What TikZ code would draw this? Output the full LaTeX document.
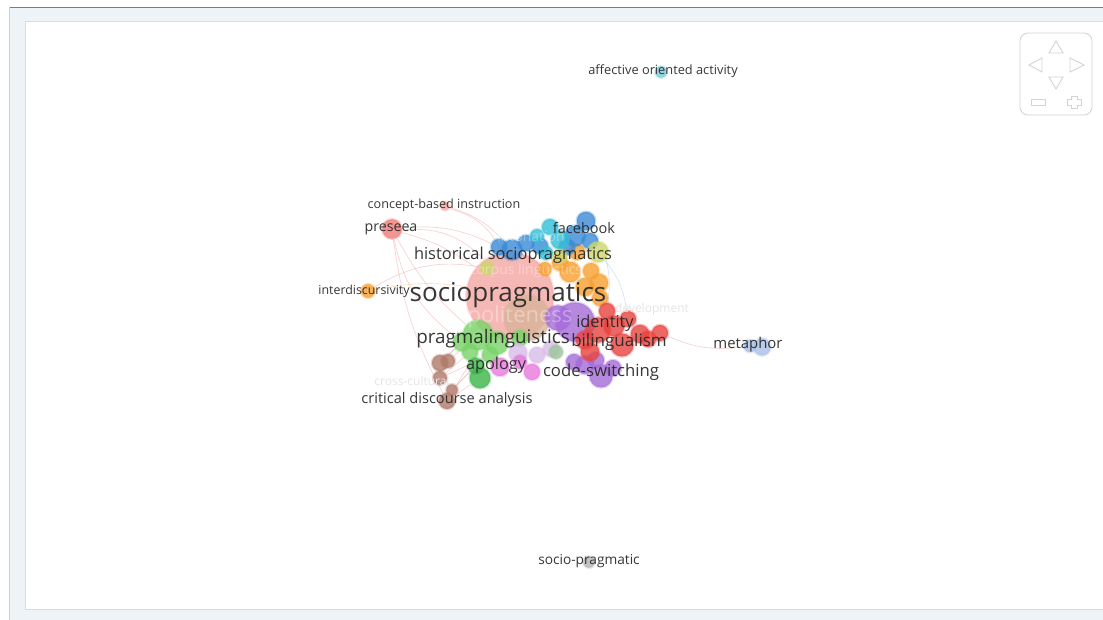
\documentclass[tikz,border=0pt]{standalone}
\usepackage{fontspec}
\setmainfont{Open Sans}
\pgfdeclarelayer{bg}
\pgfdeclarelayer{edges}
\pgfsetlayers{bg,edges,main}
\definecolor{frameC}{HTML}{EEF3F8}
\definecolor{topline}{HTML}{6E7F8F}
\definecolor{panelB}{HTML}{D5DCE3}
\definecolor{txt}{HTML}{262626}
\definecolor{pinkC}{HTML}{F4A7A3}
\definecolor{tanC}{HTML}{D9B39A}
\definecolor{redC}{HTML}{E8433F}
\definecolor{salmonC}{HTML}{F07C78}
\definecolor{blueC}{HTML}{3A8AD6}
\definecolor{cyanC}{HTML}{33BED8}
\definecolor{greenL}{HTML}{78D468}
\definecolor{greenD}{HTML}{3DB548}
\definecolor{purpleC}{HTML}{A46CD8}
\definecolor{orangeC}{HTML}{F7A030}
\definecolor{yellowC}{HTML}{CFD86A}
\definecolor{brownC}{HTML}{B07868}
\definecolor{lilacC}{HTML}{D8BCE8}
\definecolor{magentaC}{HTML}{E878DC}
\definecolor{tealC}{HTML}{7CCAD8}
\definecolor{metaC}{HTML}{A9C0E6}
\definecolor{grayC}{HTML}{B4B4B4}
\definecolor{ggC}{HTML}{9CC49A}
\definecolor{edgeC}{HTML}{F2AFAF}
\definecolor{navC}{HTML}{D4D4D4}
\tikzset{
  bub/.style={circle, inner sep=0pt, fill=#1, fill opacity=0.8, draw=#1, draw opacity=0.3, line width=2.5pt},
  lbl/.style={text=txt, inner sep=0pt, text opacity=0.92},
  faint/.style={text=white, text opacity=0.35, inner sep=0pt},
  faintg/.style={text=black!10, inner sep=0pt},
  edge/.style={draw=edgeC, line width=0.7pt, draw opacity=0.55},
  nav/.style={draw=navC, line width=0.9pt},
}
\newcommand{\bubb}[5]{\node[bub=#5, minimum size=#4*2.3pt] (#1) at (#2,#3) {};}
\newcommand{\fs}[1]{\fontsize{#1}{#1}\selectfont}
\begin{document}
\begin{tikzpicture}[x=1pt,y=-1pt]
\useasboundingbox (0,0) rectangle (1103,620);
\begin{pgfonlayer}{bg}
\fill[white] (0,0) rectangle (1103,620);
\fill[frameC] (9,7.5) rectangle (1103,620);
\draw[topline, line width=1.2pt] (9,7.5) -- (1103,7.5);
\draw[black!18, line width=0.8pt] (9,7.5) -- (9,620);
\fill[white] (25,21) rectangle (1110,609);
\draw[panelB, line width=0.9pt] (1110,21) -- (25,21) -- (25,609) -- (1110,609);
\end{pgfonlayer}

% navigation widget
\draw[nav, rounded corners=8pt] (1020,33) rectangle (1092,115);
\draw[nav] (1049,53) -- (1063,53) -- (1056,41) -- cycle;
\draw[nav] (1042,58) -- (1042,72) -- (1029,65) -- cycle;
\draw[nav] (1070,58) -- (1070,72) -- (1084,65) -- cycle;
\draw[nav] (1049,77) -- (1063,77) -- (1056,89) -- cycle;
\draw[nav] (1031,99) rectangle (1045,105);
\draw[nav] (1071,96) -- (1077,96) -- (1077,99) -- (1081,99) -- (1081,105) -- (1077,105) -- (1077,108) -- (1071,108) -- (1071,105) -- (1067,105) -- (1067,99) -- (1071,99) -- cycle;

% big central bubbles
\bubb{soc}{510}{296}{38}{pinkC}
\bubb{pol}{527}{318}{20}{tanC}
% orange
\bubb{o1}{570}{272}{9}{orangeC}
\bubb{o2}{585}{287}{8}{orangeC}
\bubb{o3}{599}{283}{8}{orangeC}
\bubb{o4}{577}{252}{7}{orangeC}
\bubb{o5}{560}{263}{7}{orangeC}
\bubb{o6}{545}{269}{6}{orangeC}
\bubb{o7}{600}{298}{7}{orangeC}
\bubb{o8}{591}{271}{7}{orangeC}
% blue
\bubb{bl1}{512}{250}{9}{blueC}
\bubb{bl2}{540}{246}{7}{blueC}
\bubb{bl3}{526}{243}{7}{blueC}
\bubb{bl4}{575}{236}{9}{blueC}
\bubb{bl5}{586}{221}{8}{blueC}
\bubb{bl6}{567}{247}{7}{blueC}
\bubb{bl7}{499}{247}{7}{blueC}
\bubb{bl8}{590}{241}{7}{blueC}
% cyan
\bubb{c1}{550}{227}{7}{cyanC}
\bubb{c2}{560}{240}{8}{cyanC}
\bubb{c3}{537}{236}{6}{cyanC}
\bubb{c4}{546}{253}{6}{cyanC}
% yellow green
\bubb{y1}{598}{252}{9}{yellowC}
\bubb{y2}{487}{268}{6}{yellowC}
\bubb{y3}{560}{256}{6}{yellowC}
% purple
\bubb{pu1}{575}{322}{17}{purpleC}
\bubb{pu2}{558}{318}{11}{purpleC}
\bubb{pu3}{601}{376}{10}{purpleC}
\bubb{pu4}{585}{365}{8}{purpleC}
\bubb{pu5}{613}{368}{7}{purpleC}
\bubb{pu6}{574}{362}{7}{purpleC}
\bubb{pu7}{596}{360}{7}{purpleC}
% red
\bubb{r1}{598}{330}{11}{redC}
\bubb{r2}{614}{326}{9}{redC}
\bubb{r3}{640}{334}{8}{redC}
\bubb{r4}{660}{333}{7}{redC}
\bubb{r5}{590}{352}{8}{redC}
\bubb{r6}{622}{345}{10}{redC}
\bubb{r7}{607}{311}{7}{redC}
\bubb{r8}{628}{319}{7}{redC}
\bubb{r9}{585}{340}{8}{redC}
\bubb{r10}{648}{339}{7}{redC}
% green
\bubb{g1}{478}{335}{13}{greenL}
\bubb{g2}{497}{343}{10}{greenL}
\bubb{g3}{462}{342}{8}{greenL}
\bubb{g4}{490}{355}{7}{greenL}
\bubb{g5}{470}{352}{7}{greenL}
\bubb{g8}{520}{338}{7}{greenL}
\bubb{g6}{480}{378}{9}{greenD}
\bubb{g7}{476}{366}{7}{greenD}
% lilac / magenta / grey-green
\bubb{l1}{518}{353}{8}{lilacC}
\bubb{l2}{537}{355}{7}{lilacC}
\bubb{l3}{551}{349}{7}{lilacC}
\bubb{m1}{532}{372}{7}{magentaC}
\bubb{m2}{500}{367}{8}{magentaC}
\bubb{m3}{520}{362}{6}{magentaC}
\bubb{gg}{556}{352}{6}{ggC}
% brown
\bubb{br1}{440}{363}{7}{brownC}
\bubb{br2}{448}{361}{6}{brownC}
\bubb{br3}{440}{378}{6}{brownC}
\bubb{br4}{452}{390}{5}{brownC}
\bubb{br5}{447}{401}{7}{brownC}
% outliers
\bubb{pre}{392}{229}{8.5}{salmonC}
\bubb{cbi}{445}{206}{4}{pinkC}
\bubb{inter}{368}{291}{6}{orangeC}
\bubb{met}{762}{347}{7.5}{metaC}
\bubb{met2}{750}{346}{5.5}{metaC}
\bubb{aff}{661}{72}{5}{tealC}
\bubb{spg}{589}{562}{5}{grayC}

% edges
\begin{pgfonlayer}{edges}
\draw[edge] (pre) to[bend left=25] (soc);
\draw[edge] (pre) to[bend left=10] (soc);
\draw[edge] (pre) to[bend right=10] (g1);
\draw[edge] (pre) to[bend right=20] (g3);
\draw[edge] (pre) to[bend left=15] (bl7);
\draw[edge] (cbi) to[bend left=25] (soc);
\draw[edge] (cbi) to[bend left=15] (bl1);
\draw[edge, draw=orangeC!60] (inter) to[bend left=10] (soc);
\draw[edge] (inter) to[bend left=20] (y2);
\draw[edge] (r4) to[bend right=15] (met2);
\draw[edge] (br1) -- (g3);
\draw[edge] (br1) -- (soc);
\draw[edge] (br2) -- (g1);
\draw[edge] (br3) -- (g5);
\draw[edge] (br3) -- (g4);
\draw[edge] (br4) -- (g7);
\draw[edge] (br4) -- (g2);
\draw[edge] (br5) -- (g6);
\draw[edge] (br5) -- (soc);
\draw[edge] (br5) to[bend left=10] (pre);
\draw[edge, draw=blueC!40] (bl5) to[bend left=20] (r7);
\draw[edge, draw=blueC!40] (y1) to[bend left=15] (r8);
\end{pgfonlayer}

% faint labels
\node[faint, font=\fs{14}] (fl1) at (531,236) {intonation};
\node[faint, font=\fs{14}] (fl2) at (526,271) {corpus linguistics};
\node[faint, font=\fs{22}] (fl3) at (520,317) {politeness};
\node[faintg, font=\fs{12}] (fl4) at (652,309) {development};
\node[faintg, font=\fs{12}] (fl5) at (412,381) {cross-cultural};

% labels
\node[lbl, font=\fs{12.8}] (Laff) at (663,71) {affective oriented activity};
\node[lbl, font=\fs{12.6}] (Lcbi) at (444,205) {concept-based instruction};
\node[lbl, font=\fs{14.2}] (Lpre) at (391,229) {preseea};
\node[lbl, font=\fs{14.5}] (Lfb) at (584,228) {facebook};
\node[lbl, font=\fs{16.4}] (Lhist) at (513,255) {historical sociopragmatics};
\node[lbl, font=\fs{12.4}] (Linter) at (364,291) {interdiscursivity};
\node[lbl, font=\fs{26}] (Lsoc) at (508,295) {sociopragmatics};
\node[lbl, font=\fs{16.4}] (Lid) at (605,323) {identity};
\node[lbl, font=\fs{18.8}] (Lprag) at (493,339) {pragmalinguistics};
\node[lbl, font=\fs{17}] (Lbil) at (619,342) {bilingualism};
\node[lbl, font=\fs{14.9}] (Lmet) at (748,345) {metaphor};
\node[lbl, font=\fs{16.3}] (Lapo) at (496,365) {apology};
\node[lbl, font=\fs{16.7}] (Lcs) at (601,372) {code-switching};
\node[lbl, font=\fs{14.6}] (Lcda) at (447,400) {critical discourse analysis};
\node[lbl, font=\fs{13.7}] (Lspg) at (589,561) {socio-pragmatic};
\end{tikzpicture}
\end{document}
